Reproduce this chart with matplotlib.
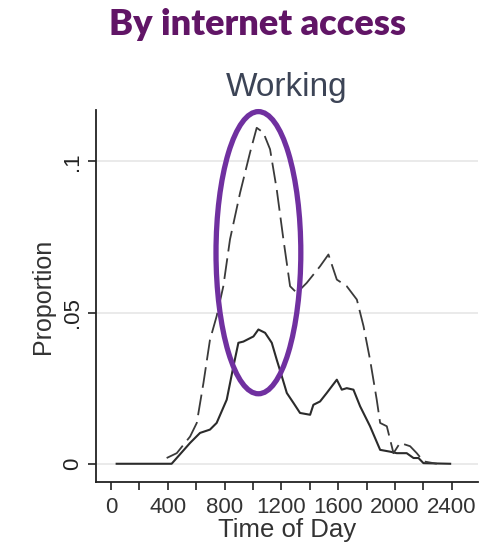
import numpy as np
import matplotlib
matplotlib.use("Agg")
import matplotlib.pyplot as plt
from matplotlib.patches import Ellipse

# solid line
solid_t = [40, 427, 557, 627, 697, 744, 815, 862, 897, 932, 1003, 1038, 1085, 1132,
           1167, 1203, 1238, 1285, 1331, 1402, 1425, 1472, 1519, 1590, 1625, 1660,
           1707, 1754, 1824, 1895, 1965, 2012, 2082, 2130, 2165, 2200, 2388]
solid_p = [0, 0, 0.0069, 0.0102, 0.0113, 0.0135, 0.0212, 0.0322, 0.0400, 0.0404,
           0.0421, 0.0444, 0.0433, 0.0400, 0.0344, 0.0289, 0.0234, 0.0201, 0.0168,
           0.0162, 0.0195, 0.0206, 0.0234, 0.0278, 0.0245, 0.0250, 0.0245, 0.0190,
           0.0124, 0.0046, 0.0040, 0.0035, 0.0035, 0.0019, 0.0019, 0.0002, 0]

# dashed line
dash_t = [392, 463, 557, 604, 651, 697, 744, 791, 838, 909, 979, 1026, 1073, 1120,
          1167, 1214, 1261, 1308, 1378, 1472, 1531, 1590, 1660, 1731, 1778, 1824,
          1871, 1895, 1942, 1989, 2035, 2106, 2153, 2200, 2294]
dash_p = [0.0019, 0.0035, 0.0090, 0.0135, 0.0267, 0.0410, 0.0488, 0.0587, 0.0742,
          0.0896, 0.1029, 0.1111, 0.1095, 0.1040, 0.0907, 0.0742, 0.0587, 0.0565,
          0.0598, 0.0653, 0.0692, 0.0609, 0.0587, 0.0543, 0.0455, 0.0344, 0.0212,
          0.0135, 0.0124, 0.0035, 0.0069, 0.0058, 0.0035, 0.0008, 0]

xticks = [0, 400, 800, 1200, 1600, 2000, 2400]
yticks = [0, 0.05, 0.1]
ylabels = ["0", ".05", ".1"]

plt.rcParams['font.family'] = ['Liberation Sans', 'DejaVu Sans']
plt.rcParams['lines.scale_dashes'] = False

fig = plt.figure(figsize=(4.82, 5.47), dpi=100)
ax = fig.add_axes([0.199, 0.119, 0.793, 0.680])

ax.plot(solid_t, solid_p, color='#2b2b2b', lw=1.5)
ax.plot(dash_t, dash_p, color='#3a3a3a', lw=1.3, dashes=(15, 5))

ax.add_patch(Ellipse((1038, 0.0698), 597, 0.0933, fill=False,
                     edgecolor='#7030A0', lw=3.8, clip_on=False, zorder=5))

ax.set_xlim(-106, 2585)
ax.set_ylim(-0.006, 0.117)
ax.set_xticks(xticks)
ax.set_xticks(np.arange(0, 2401, 200), minor=True)
ax.set_yticks(yticks)
ax.set_yticklabels(ylabels, rotation=90, va='center')
ax.tick_params(axis='both', which='both', direction='out', length=6, width=1.2,
               labelsize=16, colors='#222222')
ax.tick_params(axis='x', which='major', pad=5)
ax.tick_params(axis='x', which='minor', length=6)
for t in ax.get_xticklabels():
    t.set_color('#333333')

ax.yaxis.grid(True, color='#e6e6e6', lw=1.2)
ax.set_axisbelow(True)
for s in ['top', 'right']:
    ax.spines[s].set_visible(False)
for s in ['left', 'bottom']:
    ax.spines[s].set_linewidth(1.3)
    ax.spines[s].set_color('#222222')

ax.set_xlabel("Time of Day", fontsize=18.5, color='#333333', labelpad=0)
ax.set_ylabel("Proportion", fontsize=18, color='#333333', labelpad=5)
ax.set_title("Working", fontsize=24, color='#3c4456', pad=10)

fig.text(0.535, 0.955, "By internet access", ha='center', va='center',
         fontsize=26, fontweight='heavy', family='Lato', color='#611566')

fig.savefig('out.png', dpi=100)
